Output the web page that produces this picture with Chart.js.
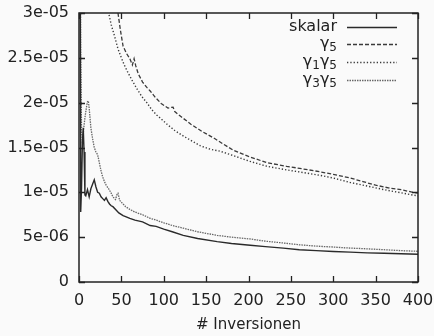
<!DOCTYPE html>
<html>
<head>
<meta charset="utf-8">
<script src="https://cdn.jsdelivr.net/npm/chart.js@4/dist/chart.umd.min.js"></script>
<style>
  html, body { margin: 0; padding: 0; background: #fafafa; }
  #wrap { width: 434px; height: 336px; }
</style>
</head>
<body>
<div id="wrap"><canvas id="c" width="434" height="336"></canvas></div>
<script>
// Values are in units of 1e-6
const UNIT = 1e-6;

const skalarN = [1, 2, 3, 4, 5, 6, 7, 8, 10, 12, 14, 16, 18, 20, 22, 24, 26, 28, 30, 32, 34, 36, 38, 40,
  44, 47, 52, 55, 60, 66, 75, 84, 91, 100, 110, 123, 140, 163, 180, 202, 220, 241, 260, 280,
  300, 320, 340, 360, 380, 400];
const skalarV = [60, 7.8, 10.5, 15.5, 17.2, 14.5, 9.7, 9.6, 10.3, 9.5, 10.4, 10.9, 11.4, 10.6, 10.0, 9.9, 9.5, 9.3, 9.1, 9.4, 9.0, 8.7, 8.5, 8.4,
  8.0, 7.7, 7.4, 7.3, 7.1, 6.9, 6.7, 6.3, 6.2, 5.9, 5.6, 5.2, 4.85, 4.5, 4.3, 4.1, 3.95, 3.78, 3.6, 3.5,
  3.4, 3.33, 3.25, 3.2, 3.15, 3.1];

const g5N = [40, 44, 46, 49, 52, 56, 60, 63, 65, 67, 70, 75, 80, 84, 90, 97, 105, 111, 113, 121,
  132, 145, 160, 170, 182, 200, 222, 245, 265, 284, 300, 320, 335, 350, 365, 380, 394, 400];
const g5V = [36, 31.5, 30.0, 28.0, 26.3, 25.5, 24.9, 24.2, 24.9, 24.1, 23.2, 22.3, 21.7, 21.3, 20.6, 19.9, 19.4, 19.5, 19.0, 18.4,
  17.6, 16.8, 16.0, 15.4, 14.7, 14.0, 13.3, 12.9, 12.6, 12.3, 12.0, 11.6, 11.2, 10.8, 10.5, 10.3, 10.0, 9.9];

const g15N = [28, 32, 35, 38, 42, 46, 50, 53, 57, 62, 68, 74, 80, 86, 92, 98, 105, 113, 121, 130,
  143, 155, 166, 182, 200, 222, 245, 265, 284, 300, 320, 335, 350, 365, 380, 394, 400];
const g15V = [36, 31.5, 30.0, 28.7, 27.4, 26.0, 25.0, 24.3, 23.5, 22.6, 21.6, 20.7, 20.0, 19.2, 18.6, 18.1, 17.5, 16.9, 16.4, 15.9,
  15.2, 14.8, 14.6, 14.1, 13.5, 12.9, 12.5, 12.2, 11.9, 11.6, 11.1, 10.8, 10.5, 10.2, 9.95, 9.7, 9.6];

const g35N = [1, 2, 3, 4, 5, 6, 7, 8, 9, 10, 11, 12, 13, 14, 16, 18, 20, 22, 24, 26, 28, 30, 32,
  35, 38, 40, 43, 45, 46, 48, 51, 55, 60, 66, 75, 84, 91, 100, 110, 123, 140, 163, 180,
  202, 220, 241, 260, 280, 300, 316, 340, 360, 380, 400];
const g35V = [60, 26, 17, 15.5, 16.5, 17.5, 18.3, 19.0, 19.6, 20.1, 20.2, 19.4, 18.3, 17.2, 16.0, 15.0, 14.5, 14.2, 13.3, 12.4, 11.7, 11.2, 10.8,
  10.4, 9.9, 9.5, 9.2, 9.8, 9.9, 9.1, 8.8, 8.4, 8.1, 7.8, 7.5, 7.1, 6.9, 6.6, 6.3, 6.0, 5.6, 5.2, 5.0,
  4.8, 4.55, 4.35, 4.15, 4.0, 3.9, 3.8, 3.7, 3.6, 3.5, 3.42];

const xTickValues = [0, 50, 100, 150, 200, 250, 300, 350, 400];
const yTickLabels = ['0', '5e-06', '1e-05', '1.5e-05', '2e-05', '2.5e-05', '3e-05'];
const xTitle = '# Inversionen';

// legend entries: text pieces, subscript flags
const legendLabels = [
  [['skalar', false]],
  [['γ', false], ['5', true]],
  [['γ', false], ['1', true], ['γ', false], ['5', true]],
  [['γ', false], ['3', true], ['γ', false], ['5', true]]
];

const FONT = '"DejaVu Sans", sans-serif';
const INK = '#222';

function pts(ns, vs) { return ns.map((n, i) => ({ x: n, y: vs[i] * UNIT })); }

const series = [
  { label: 'skalar', data: pts(skalarN, skalarV), color: '#2a2a2a', dash: [], width: 1.4 },
  { label: 'γ5', data: pts(g5N, g5V), color: '#3a3a3a', dash: [4, 2], width: 1.3 },
  { label: 'γ1γ5', data: pts(g15N, g15V), color: '#3a3a3a', dash: [1.3, 2], width: 1.4 },
  { label: 'γ3γ5', data: pts(g35N, g35V), color: '#666', dash: [1.5, 1], width: 1.3 }
];

// box frame with inward tick marks on all four sides
const framePlugin = {
  id: 'frame',
  afterDatasetsDraw(chart) {
    const { ctx, chartArea: a, scales: { x, y } } = chart;
    ctx.save();
    ctx.strokeStyle = INK;
    ctx.lineWidth = 1.5;
    ctx.strokeRect(a.left, a.top, a.right - a.left, a.bottom - a.top);
    ctx.lineWidth = 1.3;
    const L = 6;
    ctx.beginPath();
    xTickValues.forEach(v => {
      const px = Math.round(x.getPixelForValue(v)) + 0.5;
      ctx.moveTo(px, a.bottom); ctx.lineTo(px, a.bottom - L);
      ctx.moveTo(px, a.top); ctx.lineTo(px, a.top + L);
    });
    yTickLabels.forEach((_, i) => {
      const py = Math.round(y.getPixelForValue(i * 5 * UNIT)) + 0.5;
      ctx.moveTo(a.left, py); ctx.lineTo(a.left + L, py);
      ctx.moveTo(a.right, py); ctx.lineTo(a.right - L, py);
    });
    ctx.stroke();
    ctx.restore();
  }
};

// key in the upper right: right-aligned labels followed by line samples
const keyPlugin = {
  id: 'key',
  afterDraw(chart) {
    const { ctx, chartArea: a } = chart;
    const textRight = a.right - 81;
    const lineL = a.right - 71, lineR = a.right - 21;
    const rowY = [14, 31, 49, 67];
    ctx.save();
    legendLabels.forEach((parts, i) => {
      const yy = a.top + rowY[i];
      const mainF = '16px ' + FONT, subF = '12px ' + FONT;
      let w = 0;
      parts.forEach(([t, sub]) => { ctx.font = sub ? subF : mainF; w += ctx.measureText(t).width; });
      let cx = textRight - w;
      ctx.fillStyle = INK;
      ctx.textBaseline = 'middle';
      parts.forEach(([t, sub]) => {
        ctx.font = sub ? subF : mainF;
        ctx.fillText(t, cx, sub ? yy + 4 : yy);
        cx += ctx.measureText(t).width;
      });
      const s = series[i];
      ctx.strokeStyle = s.color;
      ctx.lineWidth = s.width;
      ctx.setLineDash(s.dash);
      ctx.beginPath();
      ctx.moveTo(lineL, Math.round(yy) + 0.5);
      ctx.lineTo(lineR, Math.round(yy) + 0.5);
      ctx.stroke();
      ctx.setLineDash([]);
    });
    ctx.restore();
  }
};

new Chart(document.getElementById('c'), {
  type: 'line',
  data: {
    datasets: series.map(s => ({
      label: s.label,
      data: s.data,
      borderColor: s.color,
      borderWidth: s.width,
      borderDash: s.dash,
      pointRadius: 0,
      tension: 0,
      fill: false
    }))
  },
  options: {
    responsive: false,
    animation: false,
    devicePixelRatio: 1,
    layout: { padding: { top: 13, right: 16, left: 0, bottom: 0 } },
    plugins: { legend: { display: false }, tooltip: { enabled: false } },
    scales: {
      x: {
        type: 'linear',
        min: 0, max: 400,
        afterFit(s) { s.height = 54; s.paddingLeft = 0; s.paddingRight = 0; },
        afterBuildTicks(s) { s.ticks = xTickValues.map(v => ({ value: v })); },
        grid: { display: false, drawTicks: false },
        border: { display: false },
        ticks: { padding: 9, color: INK, font: { family: FONT, size: 16 }, maxRotation: 0 },
        title: { display: true, text: xTitle, color: INK, font: { family: FONT, size: 15 }, padding: { top: 0, bottom: 2 } }
      },
      y: {
        type: 'linear',
        min: 0, max: 30 * UNIT,
        afterFit(s) { s.width = 79; s.paddingTop = 0; s.paddingBottom = 0; },
        afterBuildTicks(s) { s.ticks = yTickLabels.map((_, i) => ({ value: i * 5 * UNIT })); },
        grid: { display: false, drawTicks: false },
        border: { display: false },
        ticks: {
          padding: 10, color: INK, font: { family: FONT, size: 16 },
          callback: (v, i) => yTickLabels[i]
        }
      }
    }
  },
  plugins: [framePlugin, keyPlugin]
});
</script>
</body>
</html>
